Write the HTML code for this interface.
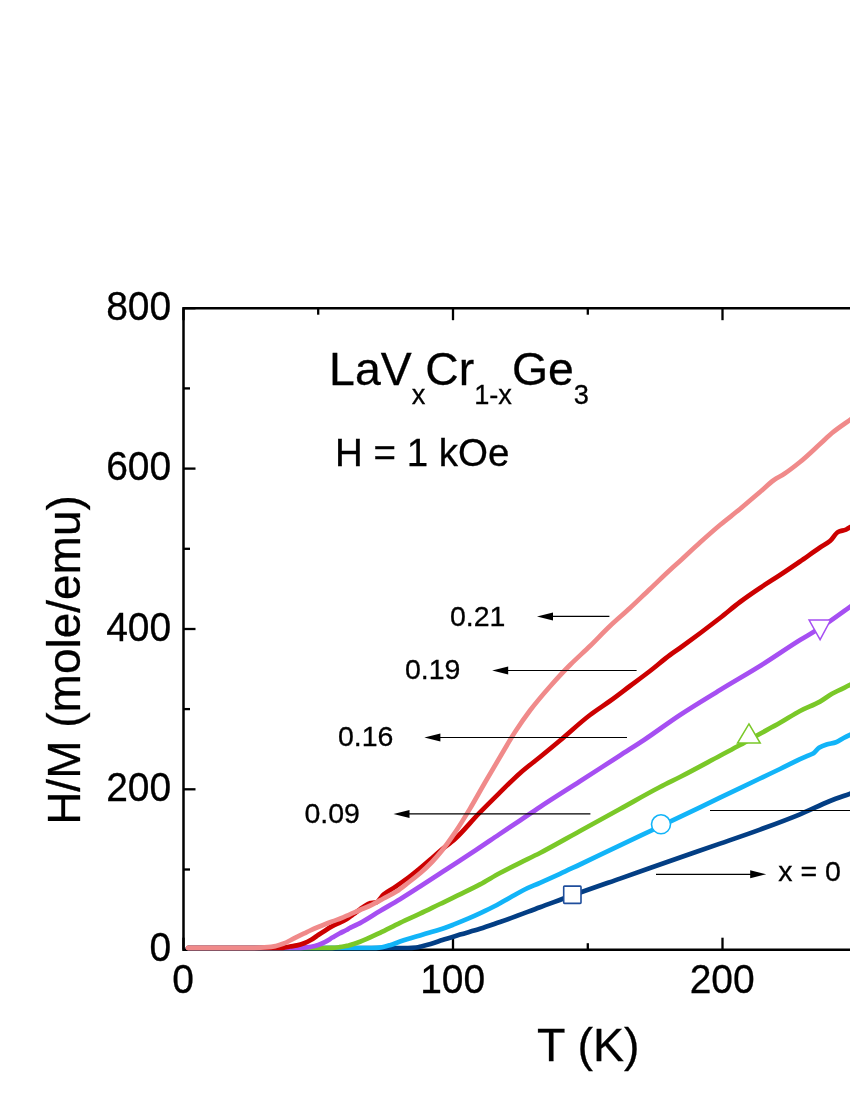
<!DOCTYPE html>
<html><head><meta charset="utf-8"><title>chart</title>
<style>
html,body{margin:0;padding:0;background:#fff;}
body{width:850px;height:1100px;overflow:hidden;font-family:"Liberation Sans",sans-serif;}
svg{display:block;}
text{font-family:"Liberation Sans",sans-serif;fill:#000;stroke:#000;stroke-width:0.3px;}
svg{will-change:transform;}
</style></head><body>
<svg width="850" height="1100" viewBox="0 0 850 1100">
<rect width="850" height="1100" fill="#fff"/>
<!-- axes frame -->
<g stroke="#000" stroke-width="2.5" fill="none" stroke-linecap="butt">
<path d="M852,308.2 L183.5,308.2 L183.5,949.7 L852,949.7" stroke-linejoin="miter"/>
<line stroke-width="2.3" x1="183.5" y1="949.7" x2="183.5" y2="937.7"/><line stroke-width="2.3" x1="183.5" y1="308.2" x2="183.5" y2="320.2"/><line stroke-width="2.3" x1="318.2" y1="308.2" x2="318.2" y2="314.7"/><line stroke-width="2.3" x1="453.0" y1="949.7" x2="453.0" y2="937.7"/><line stroke-width="2.3" x1="453.0" y1="308.2" x2="453.0" y2="320.2"/><line stroke-width="2.3" x1="587.8" y1="949.7" x2="587.8" y2="943.2"/><line stroke-width="2.3" x1="587.8" y1="308.2" x2="587.8" y2="314.7"/><line stroke-width="2.3" x1="722.5" y1="949.7" x2="722.5" y2="937.7"/><line stroke-width="2.3" x1="722.5" y1="308.2" x2="722.5" y2="320.2"/><line stroke-width="2.3" x1="183.5" y1="949.7" x2="195.5" y2="949.7"/><line stroke-width="2.3" x1="183.5" y1="869.5" x2="190.0" y2="869.5"/><line stroke-width="2.3" x1="183.5" y1="789.3" x2="195.5" y2="789.3"/><line stroke-width="2.3" x1="183.5" y1="709.1" x2="190.0" y2="709.1"/><line stroke-width="2.3" x1="183.5" y1="629.0" x2="195.5" y2="629.0"/><line stroke-width="2.3" x1="183.5" y1="548.8" x2="190.0" y2="548.8"/><line stroke-width="2.3" x1="183.5" y1="468.6" x2="195.5" y2="468.6"/><line stroke-width="2.3" x1="183.5" y1="388.4" x2="190.0" y2="388.4"/><line stroke-width="2.3" x1="183.5" y1="308.2" x2="195.5" y2="308.2"/>
</g>
<!-- tick labels -->
<g font-size="40.4"><text transform="translate(171.2,961.3) scale(0.965,1)" text-anchor="end">0</text><text transform="translate(171.2,800.9) scale(0.965,1)" text-anchor="end">200</text><text transform="translate(171.2,640.6) scale(0.965,1)" text-anchor="end">400</text><text transform="translate(171.2,480.2) scale(0.965,1)" text-anchor="end">600</text><text transform="translate(171.2,319.8) scale(0.965,1)" text-anchor="end">800</text><text transform="translate(183.2,993) scale(0.965,1)" text-anchor="middle">0</text><text transform="translate(452.7,993) scale(0.965,1)" text-anchor="middle">100</text><text transform="translate(722.2,993) scale(0.965,1)" text-anchor="middle">200</text></g>
<!-- axis titles -->
<text id="xt" x="588.2" y="1060.7" font-size="46.5" text-anchor="middle">T (K)</text>
<text id="yt" transform="translate(79.9,660) rotate(-90)" font-size="46" text-anchor="middle">H/M (mole/emu)</text>
<!-- annotations -->
<text id="t1" x="329.1" y="385.3" font-size="46.4">LaV<tspan font-size="27.2" dy="18.7">x</tspan><tspan dy="-18.7">Cr</tspan><tspan font-size="27.2" dy="18.7">1-x</tspan><tspan dy="-18.7">Ge</tspan><tspan font-size="27.2" dy="18.7">3</tspan></text>
<text id="t2" x="335" y="465.8" font-size="38.5">H = 1 kOe</text>
<!-- curves -->
<path d="M188.0,948.0 C261.3,948.0 334.7,948.0 408.0,948.0 C410.7,948.0 413.3,947.8 416.0,947.5 C418.0,947.3 420.0,946.7 422.0,946.2 C424.9,945.5 427.7,944.8 430.6,944.0 C434.5,942.9 438.5,941.3 442.4,940.0 C448.3,938.1 454.1,936.4 460.0,934.6 C466.7,932.6 473.3,930.9 480.0,928.8 C486.7,926.7 493.3,924.3 500.0,922.0 C513.3,917.3 526.7,912.2 540.0,907.3 C550.7,903.4 561.3,899.3 572.0,895.5 C588.0,889.7 604.0,884.2 620.0,878.6 C640.0,871.6 660.0,864.5 680.0,857.5 C693.3,852.8 706.7,848.2 720.0,843.6 C733.3,839.0 746.7,834.5 760.0,829.6 C773.3,824.7 786.7,819.8 800.0,814.3 C810.0,810.2 820.0,805.0 830.0,801.0 C837.3,798.1 844.7,795.7 852.0,793.0" fill="none" stroke="#033E84" stroke-width="4.7" stroke-linejoin="round" stroke-linecap="round"/>
<path d="M188.0,948.0 C248.0,948.0 308.0,948.0 368.0,948.0 C370.7,948.0 373.3,947.9 376.0,947.8 C378.0,947.7 380.0,947.5 382.0,947.2 C384.7,946.8 387.3,946.0 390.0,945.2 C393.3,944.2 396.7,942.7 400.0,941.6 C402.3,940.8 404.7,940.0 407.0,939.3 C411.3,937.9 415.7,936.7 420.0,935.4 C423.5,934.4 427.1,933.3 430.6,932.3 C433.7,931.4 436.9,930.5 440.0,929.5 C444.7,928.0 449.3,926.2 454.0,924.4 C458.7,922.6 463.3,920.7 468.0,918.7 C472.7,916.7 477.3,914.6 482.0,912.4 C486.8,910.1 491.7,907.9 496.5,905.3 C501.2,902.8 505.9,899.8 510.6,897.2 C515.3,894.6 520.0,891.8 524.7,889.5 C529.8,887.0 534.9,885.1 540.0,882.8 C546.7,879.8 553.3,876.8 560.0,873.8 C566.7,870.8 573.3,867.6 580.0,864.5 C593.3,858.2 606.7,851.7 620.0,845.4 C633.7,838.9 647.3,832.5 661.0,826.0 C667.3,823.0 673.7,819.9 680.0,816.9 C693.3,810.5 706.7,804.1 720.0,797.7 C733.3,791.3 746.7,784.9 760.0,778.5 C766.7,775.3 773.3,772.2 780.0,769.0 C786.7,765.8 793.3,762.3 800.0,759.2 C802.7,758.0 805.3,756.8 808.0,755.6 C809.8,754.8 811.7,754.3 813.5,753.2 C815.3,752.1 817.2,748.9 819.0,747.8 C821.5,746.3 824.1,745.4 826.6,744.6 C829.7,743.6 832.9,743.4 836.0,742.3 C838.5,741.4 841.1,739.3 843.6,738.0 C846.4,736.5 849.2,735.3 852.0,734.0" fill="none" stroke="#12B4F8" stroke-width="4.7" stroke-linejoin="round" stroke-linecap="round"/>
<path d="M188.0,948.0 C233.8,948.0 279.5,948.0 325.3,948.0 C327.5,948.0 329.8,948.0 332.0,947.9 C334.5,947.8 336.9,947.5 339.4,947.2 C341.8,946.9 344.1,946.4 346.5,945.9 C347.7,945.7 348.8,945.4 350.0,945.1 C353.3,944.2 356.7,943.0 360.0,941.8 C366.7,939.3 373.3,936.0 380.0,932.8 C386.7,929.6 393.3,926.0 400.0,922.8 C406.7,919.6 413.3,916.7 420.0,913.6 C426.7,910.5 433.3,907.2 440.0,904.0 C446.7,900.8 453.3,897.7 460.0,894.4 C466.7,891.1 473.3,888.0 480.0,884.4 C486.7,880.8 493.3,876.6 500.0,873.0 C506.7,869.4 513.3,866.1 520.0,862.8 C526.7,859.5 533.3,856.4 540.0,853.0 C553.3,846.1 566.7,838.3 580.0,831.0 C593.3,823.7 606.7,816.3 620.0,809.0 C633.3,801.7 646.7,793.9 660.0,787.0 C666.7,783.5 673.3,780.4 680.0,777.0 C693.3,770.1 706.7,762.8 720.0,755.7 C726.7,752.1 733.3,748.7 740.0,745.0 C745.3,742.1 750.7,739.0 756.0,736.0 C764.0,731.5 772.0,727.4 780.0,722.8 C786.7,719.0 793.3,714.5 800.0,711.0 C806.7,707.5 813.3,705.3 820.0,701.6 C824.0,699.4 828.0,696.1 832.0,693.8 C838.7,690.0 845.3,687.3 852.0,684.0" fill="none" stroke="#7AC828" stroke-width="4.7" stroke-linejoin="round" stroke-linecap="round"/>
<path d="M188.0,948.0 C224.3,948.0 260.7,948.0 297.0,948.0 C299.4,948.0 301.7,947.9 304.1,947.7 C306.5,947.6 308.8,947.2 311.2,946.8 C313.5,946.4 315.9,945.8 318.2,945.0 C320.6,944.2 322.9,943.1 325.3,941.9 C327.6,940.7 330.0,939.0 332.3,937.6 C334.7,936.2 337.0,934.8 339.4,933.5 C341.8,932.2 344.1,931.3 346.5,930.0 C347.7,929.4 348.8,928.5 350.0,927.9 C353.3,926.1 356.7,924.9 360.0,923.1 C366.7,919.6 373.3,915.0 380.0,911.0 C386.7,907.0 393.3,903.3 400.0,899.2 C406.7,895.1 413.3,890.8 420.0,886.5 C426.7,882.2 433.3,877.8 440.0,873.5 C446.7,869.2 453.3,864.7 460.0,860.4 C465.3,856.9 470.7,853.5 476.0,850.0 C483.6,845.0 491.2,839.7 498.8,834.6 C505.9,829.9 512.9,825.2 520.0,820.5 C526.7,816.0 533.3,811.4 540.0,807.0 C553.3,798.2 566.7,789.9 580.0,781.3 C593.3,772.7 606.7,764.1 620.0,755.5 C628.0,750.3 636.0,745.3 644.0,740.0 C656.0,732.0 668.0,722.9 680.0,715.0 C693.3,706.2 706.7,698.2 720.0,690.0 C733.3,681.8 746.7,674.3 760.0,666.0 C773.3,657.7 786.7,648.3 800.0,640.0 C806.7,635.9 813.3,632.3 820.0,628.0 C830.7,621.1 841.3,613.0 852.0,605.5" fill="none" stroke="#A64FF2" stroke-width="4.7" stroke-linejoin="round" stroke-linecap="round"/>
<path d="M188.0,948.0 C217.0,948.0 246.0,948.0 275.0,948.0 C277.7,948.0 280.3,947.9 283.0,947.8 C285.3,947.7 287.7,946.9 290.0,946.5 C292.3,946.1 294.7,945.9 297.0,945.4 C299.4,944.9 301.7,944.2 304.1,943.3 C306.5,942.4 308.8,941.2 311.2,939.8 C313.5,938.5 315.9,936.6 318.2,935.0 C320.6,933.4 322.9,931.9 325.3,930.4 C327.6,928.9 330.0,927.4 332.3,926.2 C334.7,924.9 337.0,923.9 339.4,922.8 C341.8,921.7 344.1,920.7 346.5,919.3 C348.3,918.2 350.2,916.6 352.0,915.3 C353.3,914.3 354.7,913.4 356.0,912.4 C357.5,911.2 359.1,909.9 360.6,908.8 C363.5,906.8 366.5,904.2 369.4,903.4 C371.8,902.8 374.1,902.9 376.5,902.2 C378.8,901.5 381.2,896.5 383.5,894.6 C387.4,891.3 391.4,889.6 395.3,886.9 C399.2,884.3 403.1,881.6 407.0,878.7 C410.9,875.8 414.9,872.5 418.8,869.3 C422.7,866.1 426.7,862.7 430.6,859.3 C433.7,856.6 436.9,853.6 440.0,851.0 C445.0,846.8 450.0,843.5 455.0,839.0 C463.0,831.8 471.0,821.6 479.0,813.4 C485.6,806.6 492.2,800.1 498.8,793.6 C505.9,786.7 512.9,779.4 520.0,773.2 C526.7,767.3 533.3,762.4 540.0,757.0 C546.7,751.6 553.3,746.1 560.0,740.5 C570.0,732.1 580.0,722.6 590.0,715.0 C596.7,709.9 603.3,705.8 610.0,701.0 C616.7,696.2 623.3,691.0 630.0,686.0 C636.7,681.0 643.3,676.2 650.0,671.0 C656.7,665.8 663.3,659.9 670.0,655.0 C673.3,652.5 676.7,650.4 680.0,648.0 C693.3,638.4 706.7,628.4 720.0,618.0 C726.7,612.8 733.3,607.0 740.0,602.0 C746.7,597.0 753.3,592.5 760.0,588.0 C766.7,583.5 773.3,579.4 780.0,575.0 C786.7,570.6 793.3,566.1 800.0,561.5 C806.7,556.9 813.3,552.0 820.0,547.5 C823.3,545.3 826.7,543.8 830.0,541.0 C832.7,538.8 835.3,533.3 838.0,532.0 C840.7,530.7 843.3,530.7 846.0,529.6 C848.0,528.8 850.0,527.2 852.0,526.0" fill="none" stroke="#CC0000" stroke-width="4.7" stroke-linejoin="round" stroke-linecap="round"/>
<path d="M188.0,947.9 C208.7,947.9 229.3,947.9 250.0,947.9 C256.0,947.9 262.0,947.6 268.0,947.2 C270.7,947.0 273.3,946.5 276.0,946.0 C278.3,945.5 280.7,944.7 283.0,943.8 C285.3,942.9 287.7,941.7 290.0,940.5 C292.3,939.3 294.7,938.0 297.0,936.8 C299.4,935.6 301.7,934.5 304.1,933.4 C306.4,932.3 308.7,931.1 311.0,930.1 C313.4,929.0 315.8,928.0 318.2,927.0 C320.5,926.0 322.7,925.1 325.0,924.2 C327.4,923.2 329.9,922.3 332.3,921.4 C335.2,920.3 338.1,919.4 341.0,918.3 C344.0,917.1 347.0,915.6 350.0,914.3 C353.3,912.8 356.7,911.5 360.0,910.0 C363.9,908.3 367.9,906.7 371.8,904.8 C375.7,902.9 379.6,900.6 383.5,898.5 C387.8,896.2 392.2,894.2 396.5,891.5 C400.5,889.0 404.5,885.6 408.5,882.5 C412.7,879.3 416.8,876.1 421.0,872.5 C424.7,869.3 428.3,865.8 432.0,862.0 C435.3,858.5 438.7,854.7 442.0,850.5 C446.7,844.7 451.3,837.9 456.0,831.0 C460.7,824.1 465.3,816.4 470.0,808.6 C475.0,800.3 480.0,791.1 485.0,782.5 C490.0,773.9 495.0,765.4 500.0,757.0 C505.0,748.6 510.0,739.7 515.0,732.0 C520.0,724.3 525.0,717.1 530.0,710.5 C536.7,701.8 543.3,694.1 550.0,686.5 C556.7,678.9 563.3,671.7 570.0,665.0 C576.7,658.3 583.3,652.5 590.0,646.0 C596.7,639.5 603.3,632.3 610.0,626.0 C616.7,619.7 623.3,614.2 630.0,608.0 C636.7,601.8 643.3,595.3 650.0,589.0 C656.7,582.7 663.3,576.1 670.0,570.0 C673.3,566.9 676.7,564.0 680.0,561.0 C686.7,554.9 693.3,548.5 700.0,542.5 C706.7,536.5 713.3,530.6 720.0,525.0 C726.7,519.4 733.3,514.5 740.0,509.0 C746.7,503.5 753.3,497.7 760.0,492.0 C764.7,488.0 769.3,483.3 774.0,480.0 C777.3,477.7 780.7,476.2 784.0,474.0 C789.3,470.5 794.7,466.3 800.0,462.0 C806.7,456.6 813.3,450.1 820.0,444.0 C824.0,440.4 828.0,436.3 832.0,433.0 C838.7,427.5 845.3,423.3 852.0,418.5" fill="none" stroke="#F08A8A" stroke-width="4.7" stroke-linejoin="round" stroke-linecap="round"/>
<!-- markers -->
<rect x="563.7" y="886.1" width="17.3" height="17.3" rx="0.8" fill="#fff" stroke="#1F4E9C" stroke-width="1.6"/>
<circle cx="661" cy="824.3" r="9.5" fill="#fff" stroke="#12B4F8" stroke-width="1.6"/>
<path d="M748.95,723.9 L760.2,743.1 L737.5,743.1 Z" fill="#fff" stroke="#7AC828" stroke-width="1.5" stroke-linejoin="miter"/>
<path d="M809.1,620.1 L830.6,620.1 L820.1,639.6 Z" fill="#fff" stroke="#A64FF2" stroke-width="1.5" stroke-linejoin="miter"/>
<!-- arrows -->
<line x1="545" y1="616.4" x2="609.4" y2="616.4" stroke="#000" stroke-width="1.2"/><path d="M537,616.4 L553,612.4 L553,620.4 Z" fill="#000"/>
<line x1="500.2" y1="670.5" x2="636.6" y2="670.5" stroke="#000" stroke-width="1.2"/><path d="M492.2,670.5 L508.2,666.5 L508.2,674.5 Z" fill="#000"/>
<line x1="432.4" y1="737.5" x2="627" y2="737.5" stroke="#000" stroke-width="1.2"/><path d="M424.4,737.5 L440.4,733.5 L440.4,741.5 Z" fill="#000"/>
<line x1="401.5" y1="813.9" x2="590.4" y2="813.9" stroke="#000" stroke-width="1.2"/><path d="M393.5,813.9 L409.5,809.9 L409.5,817.9 Z" fill="#000"/>
<line x1="656" y1="874.3" x2="758.2" y2="874.3" stroke="#000" stroke-width="1.2"/><path d="M766.2,874.3 L750.2,870.3 L750.2,878.3 Z" fill="#000"/>
<line x1="710" y1="810.5" x2="852" y2="810.5" stroke="#000" stroke-width="1.2"/>
<g font-size="28.5">
<text id="a21" x="450" y="626">0.21</text>
<text id="a19" x="405" y="679.4">0.19</text>
<text id="a16" x="338" y="746.4">0.16</text>
<text id="a09" x="304.5" y="823">0.09</text>
<text id="a0" x="778.3" y="880.6">x = 0</text>
</g>
</svg>
</body></html>
